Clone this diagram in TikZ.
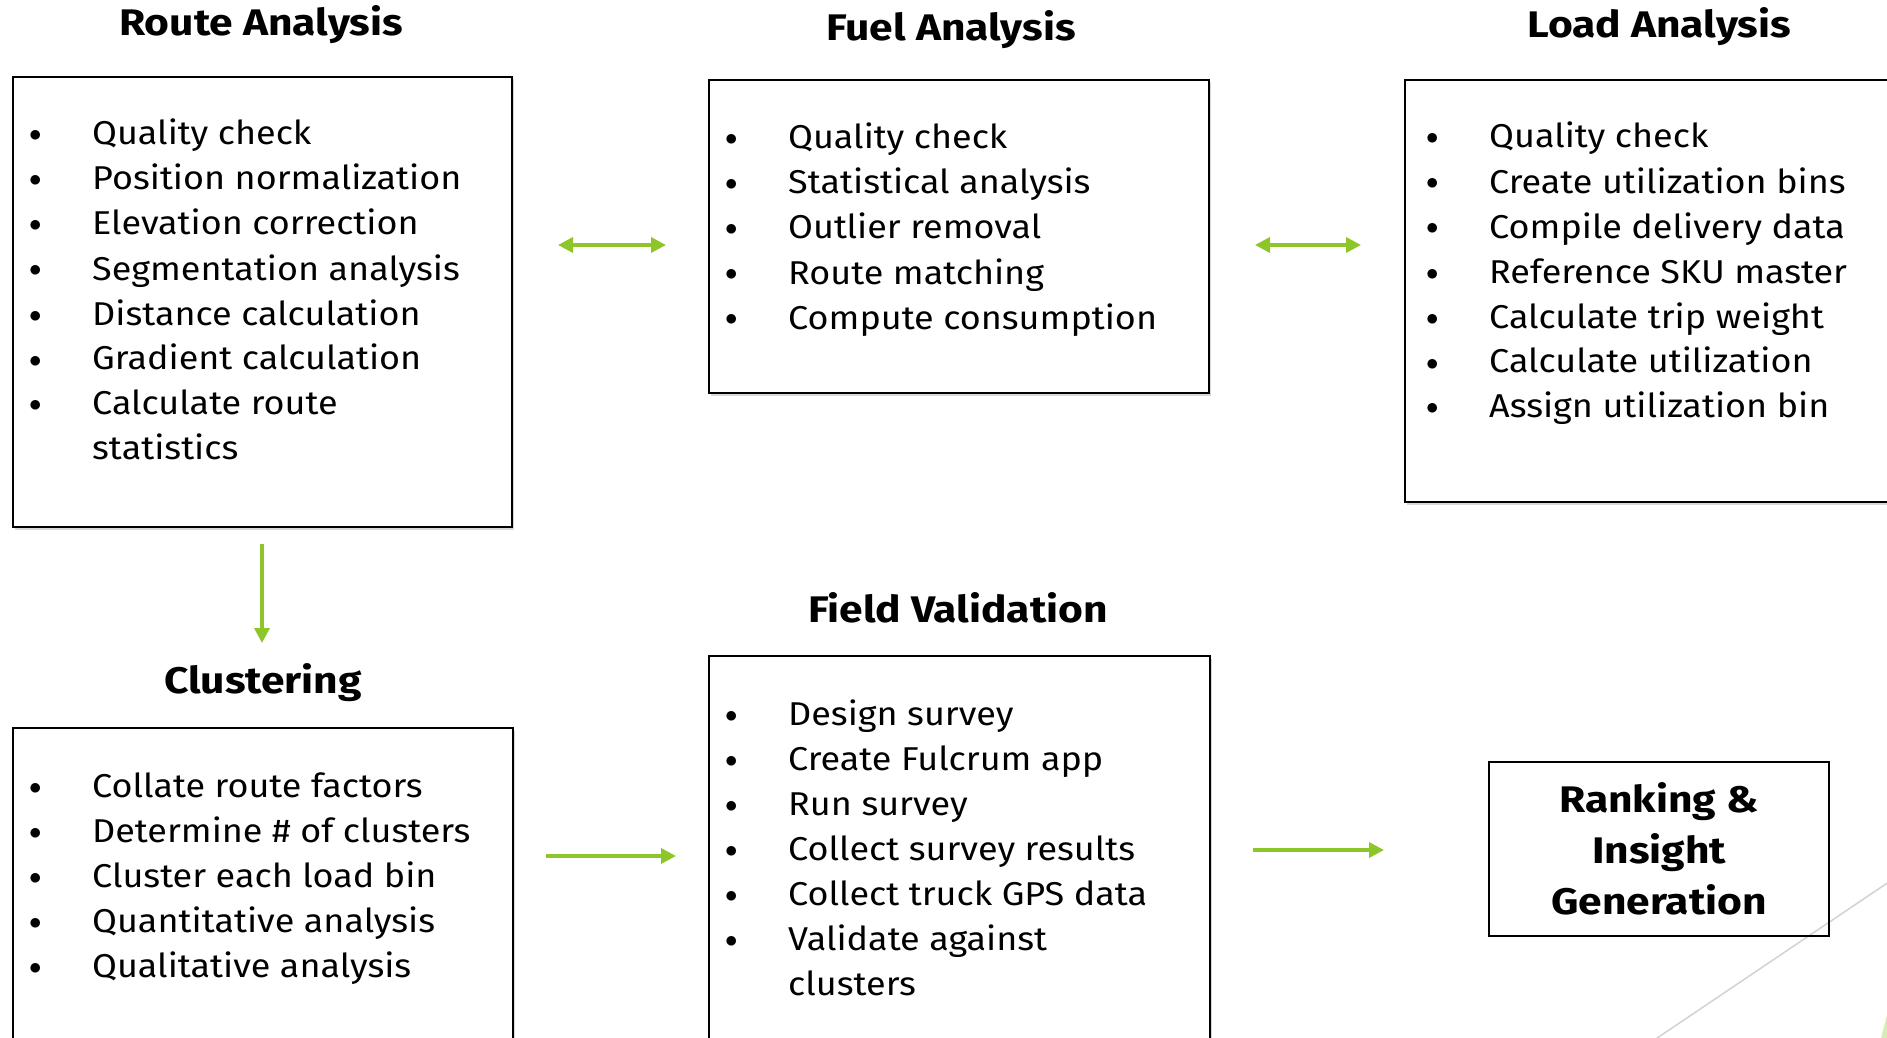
\documentclass[tikz,border=0pt]{standalone}
\usepackage{fontspec}
\setmainfont{Fira Sans}[FakeStretch=1.09, BoldFeatures={FakeStretch=1.15}]
\usetikzlibrary{positioning,arrows.meta,shadows}
\definecolor{flowgreen}{RGB}{140,198,40}
\newcommand{\blt}{\raisebox{3pt}{$\bullet$}}
\tikzset{
	>={Triangle[length=15pt,width=15pt]},
	stage/.style={draw, line width=2pt, fill=white, inner sep=0pt, anchor=north west,
		drop shadow={shadow xshift=1.5pt, shadow yshift=-2.5pt, fill=black!30, opacity=0.5}},
	heading/.style={anchor=base, inner sep=0pt, font=\fontsize{37}{44}\selectfont\bfseries},
	steps/.style={anchor=base west, inner sep=0pt, align=left, font=\fontsize{33}{45}\selectfont},
	flow/.style={draw=flowgreen, line width=3.5pt}
}

\begin{document}
\begin{tikzpicture}[x=1pt, y=-1pt]
			\useasboundingbox (0,0) rectangle (1887,1038);
			\clip (0,0) rectangle (1887,1038);
			% slide decoration
			\draw [gray!35, line width=1.5pt] (1620,1063) -- (1920,861);
			\fill [flowgreen!35] (1878,1050) -- (1893,992) -- (1900,1050) -- cycle;
			% boxes
			\node [stage, minimum width=499pt, minimum height=450pt] (route) at (12,76) {};
			\node [stage, minimum width=500pt, minimum height=313pt] (fuel) at (708,79) {};
			\node [stage, minimum width=500pt, minimum height=422pt] (load) at (1404,79) {};
			\node [stage, minimum width=500pt, minimum height=400pt] (cluster) at (12,727) {};
			\node [stage, minimum width=501pt, minimum height=450pt] (field) at (708,655) {};
			\node [draw, line width=2pt, minimum width=340pt, minimum height=174pt, align=center,
				font=\fontsize{37}{51}\selectfont\bfseries] (rank) at (1659,849) {Ranking \&\\Insight\\Generation};
			% headings
			\node [heading] (routetitle) at (261,36) {Route Analysis};
			\node [heading] (fueltitle) at (951,41) {Fuel Analysis};
			\node [heading] (loadtitle) at (1659,38) {Load Analysis};
			\node [heading] (clustertitle) at (263,693) {Clustering};
			\node [heading] (fieldtitle) at (958,622) {Field Validation};
			% lists
			\node [steps] (routelist) at ([xshift=17,yshift=-69]route.north west) {%
				\begin{tabular}[t]{@{}p{63pt}@{}l@{}}
				\blt & Quality check\\
				\blt & Position normalization\\
				\blt & Elevation correction\\
				\blt & Segmentation analysis\\
				\blt & Distance calculation\\
				\blt & Gradient calculation\\
				\blt & Calculate route\\
				 & statistics
				\end{tabular}};
			\node [steps] (fuellist) at ([xshift=17,yshift=-70]fuel.north west) {%
				\begin{tabular}[t]{@{}p{63pt}@{}l@{}}
				\blt & Quality check\\
				\blt & Statistical analysis\\
				\blt & Outlier removal\\
				\blt & Route matching\\
				\blt & Compute consumption
				\end{tabular}};
			\node [steps] (loadlist) at ([xshift=22,yshift=-69]load.north west) {%
				\begin{tabular}[t]{@{}p{63pt}@{}l@{}}
				\blt & Quality check\\
				\blt & Create utilization bins\\
				\blt & Compile delivery data\\
				\blt & Reference SKU master\\
				\blt & Calculate trip weight\\
				\blt & Calculate utilization\\
				\blt & Assign utilization bin
				\end{tabular}};
			\node [steps] (clusterlist) at ([xshift=17,yshift=-70]cluster.north west) {%
				\begin{tabular}[t]{@{}p{63pt}@{}l@{}}
				\blt & Collate route factors\\
				\blt & Determine \# of clusters\\
				\blt & Cluster each load bin\\
				\blt & Quantitative analysis\\
				\blt & Qualitative analysis
				\end{tabular}};
			\node [steps] (fieldlist) at ([xshift=17,yshift=-70]field.north west) {%
				\begin{tabular}[t]{@{}p{63pt}@{}l@{}}
				\blt & Design survey\\
				\blt & Create Fulcrum app\\
				\blt & Run survey\\
				\blt & Collect survey results\\
				\blt & Collect truck GPS data\\
				\blt & Validate against\\
				 & clusters
				\end{tabular}};
			% arrows
			\coordinate (rf1) at (558,245);
			\coordinate (rf2) at (666,245);
			\coordinate (fl1) at (1255,245);
			\coordinate (fl2) at (1361,245);
			\coordinate (rc1) at (262,544);
			\coordinate (rc2) at (262,643);
			\coordinate (cf1) at (546,856);
			\coordinate (cf2) at (676,856);
			\coordinate (fr1) at (1253,850);
			\coordinate (fr2) at (1384,850);
			\draw [flow, <->] (rf1) -- (rf2);
			\draw [flow, <->] (fl1) -- (fl2);
			\draw [flow, ->] (rc1) -- (rc2);
			\draw [flow, ->] (cf1) -- (cf2);
			\draw [flow, ->] (fr1) -- (fr2);
		\end{tikzpicture}
\end{document}
